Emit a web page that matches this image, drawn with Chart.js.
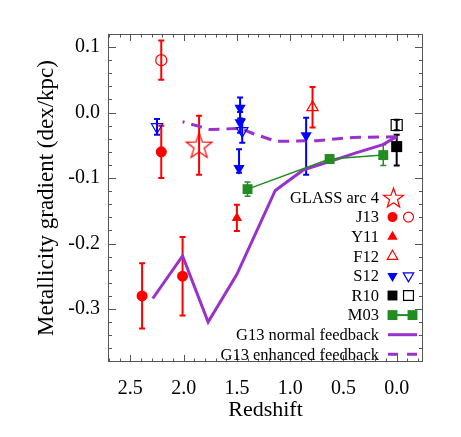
<!DOCTYPE html>
<html>
<head>
<script src="https://cdn.jsdelivr.net/npm/chart.js@4/dist/chart.umd.min.js"></script>
<style>
  html, body { margin: 0; padding: 0; background: #fff; }
</style>
</head>
<body>
<canvas id="c" width="461" height="437"></canvas>
<script>
// tick labels
const xTicks = [2.5, 2.0, 1.5, 1.0, 0.5, 0.0];
const yTicks = [-0.3, -0.2, -0.1, 0.0, 0.1];

// GLASS arc 4
const glassZ = [1.855];
const glassGrad = [-0.050];
const glassErr = [0.045];

// J13 (filled and open)
const j13Z = [2.21, 2.01, 2.39];
const j13Grad = [-0.060, -0.250, -0.280];
const j13Err = [0.040, 0.060, 0.050];
const j13OpenZ = [2.21];
const j13OpenGrad = [0.080];
const j13OpenErr = [0.030];

// Y11
const y11Z = [1.50];
const y11Grad = [-0.161];
const y11Err = [0.020];

// F12
const f12Z = [0.79];
const f12Grad = [0.008];
const f12Err = [0.031];

// S12 (filled and open)
const s12Z = [1.47, 1.47, 1.48, 0.85];
const s12Grad = [0.007, -0.015, -0.085, -0.035];
const s12ErrLo = [0.016, 0.016, 0.007, 0.060];
const s12ErrHi = [0.016, 0.016, 0.029, 0.027];
const s12OpenZ = [2.25, 1.45];
const s12OpenGrad = [-0.022, -0.028];
const s12OpenErr = [0.012, 0.018];

// R10 (filled and open)
const r10Z = [0.0];
const r10Grad = [-0.052];
const r10ErrLo = [0.029];
const r10ErrHi = [0.018];
const r10OpenZ = [0.0];
const r10OpenGrad = [-0.019];
const r10OpenErr = [0.008];

// M03
const m03Z = [1.40, 0.63, 0.126];
const m03Grad = [-0.117, -0.071, -0.065];
const m03Err = [0.011, 0.006, 0.016];

// G13 models
const g13NormZ = [2.29, 2.01, 1.77, 1.50, 1.14, 0.88, 0.63, 0.39, 0.13, 0.0];
const g13NormGrad = [-0.284, -0.219, -0.320, -0.247, -0.119, -0.088, -0.075, -0.062, -0.049, -0.037];
const g13EnhZ = [2.01, 1.88, 1.75, 1.47, 1.35, 1.13, 0.75, 0.41, 0.0];
const g13EnhGrad = [-0.014, -0.020, -0.026, -0.024, -0.032, -0.044, -0.043, -0.038, -0.037];

const RED = '#ff0000', BLUE = '#0000ff', GREEN = '#228b22', BLACK = '#000000', PURPLE = '#9932cc';
const NONE = 'rgba(0,0,0,0)';
const SERIF = "'Liberation Serif', 'DejaVu Serif', serif";

function pts(z, g) {
  return z.map((v, i) => ({ x: v, y: g[i] }));
}

function makeStar(r, color) {
  const c = document.createElement('canvas');
  const s = Math.ceil(r * 2 + 4);
  c.width = s; c.height = s;
  const g = c.getContext('2d');
  g.strokeStyle = color;
  g.lineWidth = 1.2;
  g.beginPath();
  for (let k = 0; k < 10; k++) {
    const rr = k % 2 ? r * 0.4 : r;
    const a = -Math.PI / 2 + k * Math.PI / 5;
    g.lineTo(s / 2 + rr * Math.cos(a), s / 2 + 1 + rr * Math.sin(a));
  }
  g.closePath();
  g.stroke();
  return c;
}
const starBig = makeStar(13.5, RED);
const starSmall = makeStar(10.5, RED);

function marker(label, z, g, lo, hi, color, style, radius, filled, extra) {
  return Object.assign({
    label: label,
    data: pts(z, g),
    errLo: lo, errHi: hi, errColor: color, errWidth: 2,
    pointStyle: style,
    pointRadius: radius,
    pointBackgroundColor: filled ? color : NONE,
    pointBorderColor: color,
    pointBorderWidth: filled ? 0 : 1.2,
    showLine: false
  }, extra || {});
}

// draws the error bars through the scales
const errorBars = {
  id: 'errorBars',
  beforeDatasetsDraw(chart) {
    const { ctx, scales: { x, y } } = chart;
    ctx.save();
    chart.data.datasets.forEach(ds => {
      if (!ds.errLo) return;
      ctx.strokeStyle = ds.errColor;
      ctx.lineWidth = ds.errWidth;
      ds.data.forEach((p, i) => {
        const px = x.getPixelForValue(p.x);
        const y1 = y.getPixelForValue(p.y - ds.errLo[i]);
        const y2 = y.getPixelForValue(p.y + ds.errHi[i]);
        ctx.beginPath();
        ctx.moveTo(px, y1); ctx.lineTo(px, y2);
        ctx.moveTo(px - 3, y1); ctx.lineTo(px + 3, y1);
        ctx.moveTo(px - 3, y2); ctx.lineTo(px + 3, y2);
        ctx.stroke();
      });
    });
    ctx.restore();
  }
};

// box with inward ticks on all four sides
const frame = {
  id: 'frame',
  afterDraw(chart) {
    const { ctx, chartArea: a, scales: { x, y } } = chart;
    ctx.save();
    ctx.strokeStyle = '#555';
    ctx.lineWidth = 1;
    ctx.strokeRect(a.left + 0.5, a.top + 0.5, a.right - a.left - 1, a.bottom - a.top - 1);
    ctx.beginPath();
    for (let k = -2; k <= 27; k++) {
      const px = Math.round(x.getPixelForValue(k / 10)) + 0.5;
      const len = k % 5 === 0 ? 7 : 3.5;
      ctx.moveTo(px, a.bottom); ctx.lineTo(px, a.bottom - len);
      ctx.moveTo(px, a.top); ctx.lineTo(px, a.top + len);
    }
    for (let k = -19; k <= 6; k++) {
      const py = Math.round(y.getPixelForValue(k / 50)) + 0.5;
      const len = k % 5 === 0 ? 8 : 4;
      ctx.moveTo(a.left, py); ctx.lineTo(a.left + len, py);
      ctx.moveTo(a.right, py); ctx.lineTo(a.right - len, py);
    }
    ctx.stroke();
    ctx.restore();
  }
};

const legendRows = [
  'GLASS arc 4', 'J13', 'Y11', 'F12', 'S12', 'R10', 'M03',
  'G13 normal feedback', 'G13 enhanced feedback'
];

const legend = {
  id: 'innerLegend',
  afterDraw(chart) {
    const { ctx } = chart;
    const draw = Chart.helpers.drawPoint;
    const tx = 379, s1 = 392.5, s2 = 408.5;
    ctx.save();
    ctx.font = '16.5px ' + SERIF;
    ctx.textAlign = 'right';
    ctx.textBaseline = 'middle';
    ctx.fillStyle = '#000';
    function sym(style, x, yy, color, filled, r, rot) {
      ctx.fillStyle = filled ? color : NONE;
      ctx.strokeStyle = color;
      ctx.lineWidth = 1.2;
      draw(ctx, { pointStyle: style, radius: r, rotation: rot || 0, borderWidth: filled ? 0 : 1.2 }, x, yy);
    }
    legendRows.forEach((label, i) => {
      const yy = 197.5 + i * 19.6;
      ctx.fillStyle = '#000';
      ctx.fillText(label, tx, yy + 1);
      if (i === 0) sym(starSmall, s1 + 1, yy, RED, true, 10);
      if (i === 1) { sym('circle', s1, yy, RED, true, 5); sym('circle', s2, yy, RED, false, 5); }
      if (i === 2) sym('triangle', s1, yy, RED, true, 6);
      if (i === 3) sym('triangle', s1, yy, RED, false, 6);
      if (i === 4) { sym('triangle', s1, yy, BLUE, true, 6, 180); sym('triangle', s2, yy, BLUE, false, 6, 180); }
      if (i === 5) { sym('rect', s1, yy, BLACK, true, 7); sym('rect', s2, yy, BLACK, false, 7); }
      if (i === 6) {
        ctx.strokeStyle = GREEN; ctx.lineWidth = 2;
        ctx.beginPath(); ctx.moveTo(s1, yy); ctx.lineTo(412.5, yy); ctx.stroke();
        sym('rect', s1, yy, GREEN, true, 7); sym('rect', 412.5, yy, GREEN, true, 7);
      }
      if (i === 7 || i === 8) {
        ctx.strokeStyle = PURPLE; ctx.lineWidth = 3;
        ctx.setLineDash(i === 8 ? [10, 9] : []);
        ctx.beginPath(); ctx.moveTo(388, yy); ctx.lineTo(417, yy); ctx.stroke();
        ctx.setLineDash([]);
      }
    });
    ctx.restore();
  }
};

const datasets = [
  marker('GLASS arc 4', glassZ, glassGrad, glassErr, glassErr, RED, starBig, 13, false),
  marker('J13', j13Z, j13Grad, j13Err, j13Err, RED, 'circle', 5.5, true),
  marker('J13 open', j13OpenZ, j13OpenGrad, j13OpenErr, j13OpenErr, RED, 'circle', 5.5, false),
  marker('Y11', y11Z, y11Grad, y11Err, y11Err, RED, 'triangle', 6, true),
  marker('F12', f12Z, f12Grad, f12Err, f12Err, RED, 'triangle', 6.5, false),
  marker('S12', s12Z, s12Grad, s12ErrLo, s12ErrHi, BLUE, 'triangle', 6.5, true, { pointRotation: 180 }),
  marker('S12 open', s12OpenZ, s12OpenGrad, s12OpenErr, s12OpenErr, BLUE, 'triangle', 6.5, false, { pointRotation: 180 }),
  marker('R10', r10Z, r10Grad, r10ErrLo, r10ErrHi, BLACK, 'rect', 7.8, true),
  marker('R10 open', r10OpenZ, r10OpenGrad, r10OpenErr, r10OpenErr, BLACK, 'rect', 7.8, false),
  marker('M03', m03Z, m03Grad, m03Err, m03Err, GREEN, 'rect', 7, true,
    { showLine: true, borderColor: GREEN, borderWidth: 1.5, errWidth: 1.5 }),
  {
    label: 'G13 normal feedback',
    data: pts(g13NormZ, g13NormGrad),
    showLine: true, borderColor: PURPLE, borderWidth: 3, pointRadius: 0, tension: 0
  },
  {
    label: 'G13 enhanced feedback',
    data: pts(g13EnhZ, g13EnhGrad),
    showLine: true, borderColor: PURPLE, borderWidth: 3, pointRadius: 0, tension: 0,
    borderDash: [11, 7], borderDashOffset: 9
  }
];

new Chart(document.getElementById('c'), {
  type: 'scatter',
  data: { datasets: datasets },
  options: {
    responsive: false,
    animation: false,
    events: [],
    layout: { padding: { left: 0, right: 38, top: 34, bottom: 0 } },
    plugins: { legend: { display: false }, tooltip: { enabled: false } },
    scales: {
      x: {
        type: 'linear', reverse: true, min: -0.247, max: 2.71,
        afterBuildTicks: s => { s.ticks = xTicks.map(v => ({ value: v })); },
        afterFit: s => { s.height = 75; },
        ticks: {
          color: '#000', padding: 15, font: { family: SERIF, size: 20 },
          callback: v => Math.abs(v) < 1e-9 ? '0.0' : v.toFixed(1)
        },
        grid: { display: false, drawTicks: false },
        border: { display: false },
        title: {
          display: true, text: 'Redshift', color: '#000',
          font: { family: SERIF, size: 22 }, padding: { top: 0, bottom: 14 }
        }
      },
      y: {
        type: 'linear', min: -0.381, max: 0.12,
        afterBuildTicks: s => { s.ticks = yTicks.map(v => ({ value: v })); },
        afterFit: s => { s.width = 108; },
        ticks: {
          color: '#000', padding: 8, font: { family: SERIF, size: 20 },
          callback: v => Math.abs(v) < 1e-9 ? '0.0' : v.toFixed(1)
        },
        grid: { display: false, drawTicks: false },
        border: { display: false },
        title: {
          display: true, text: 'Metallicity gradient (dex/kpc)', color: '#000',
          font: { family: SERIF, size: 23 }, padding: { top: 33, bottom: 0 }
        }
      }
    }
  },
  plugins: [errorBars, frame, legend]
});
</script>
</body>
</html>
